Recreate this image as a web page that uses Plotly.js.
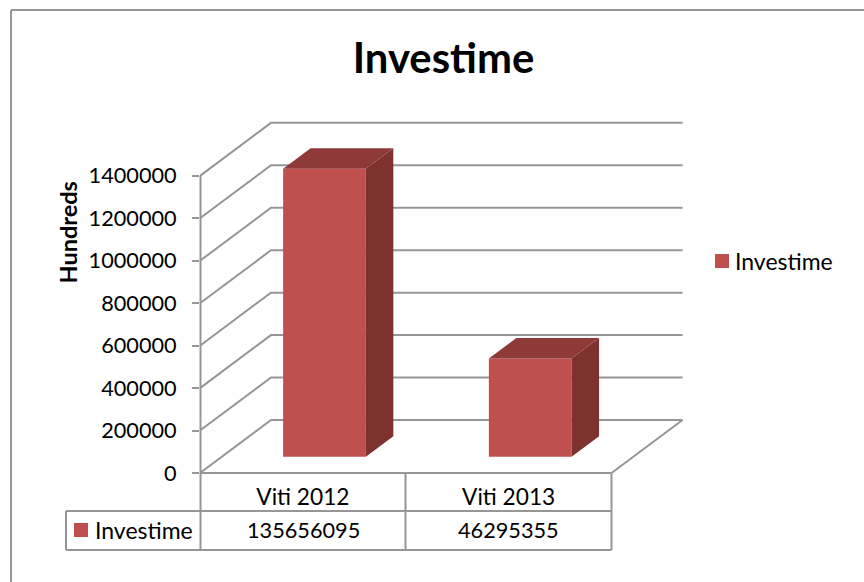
<!DOCTYPE html>
<html>
<head>
<meta charset="utf-8">
<script src="https://cdn.plot.ly/plotly-3.0.1.min.js"></script>
<style>html,body{margin:0;padding:0;background:#fff}</style>
</head>
<body>
<div id="chart" style="width:864px;height:582px"></div>
<script>
const categories = ["Viti 2012", "Viti 2013"];
const seriesName = "Investime";
const rawValues = [135656095, 46295355];
const hundreds = rawValues.map(v => v / 100);
const yTicks = [0, 200000, 400000, 600000, 800000, 1000000, 1200000, 1400000];

const FONT = "Lato, 'Open Sans', sans-serif";
const GRID = "#969696";
const BAR = "#c0504d", SIDE = "#7d3230", TOP = "#8e3a38";

// Plot rectangle in page pixels
const L = 200, R = 690, T = 115, B = 473;
const catPx = 205.75, valPx = 42.45 / 200000;
const xMax = (R - L) / catPx, yMax = (B - T) / valPx;

// Oblique projection of the floor and the bars
const wallDX = 71 / catPx, wallDY = 53 / valPx;
const barDX = 27.5 / catPx, barDY = 20.5 / valPx;
const barOffset = 0.605, barWidth = 0.402, barBase = 16.3 / valPx;

const px = x => (x - L) / (R - L);
const py = y => (B - y) / (B - T);
const seg = (x0, y0, x1, y1, w) => ({
  type: "line", xref: "paper", yref: "paper", layer: "above",
  x0: px(x0), y0: py(y0), x1: px(x1), y1: py(y1),
  line: {color: GRID, width: w || 2}
});

const shapes = [];
// Grid: one oblique run plus one back-wall run for each tick
yTicks.forEach(v => {
  shapes.push({
    type: "path", layer: "below", xref: "x", yref: "y",
    path: `M0,${v} L${wallDX},${v + wallDY} L${categories.length + wallDX},${v + wallDY}`,
    line: {color: GRID, width: 2}
  });
});
// Right edge of the floor
shapes.push({
  type: "line", layer: "below", xref: "x", yref: "y",
  x0: categories.length, y0: 0, x1: categories.length + wallDX, y1: wallDY,
  line: {color: GRID, width: 2}
});
// Outer frame
shapes.push(seg(11, 10, 864, 10), seg(11, 10, 11, 582));
// Value axis line and the data table
const colX = [66, 200.5, 405.5, 611.5];
shapes.push(
  seg(colX[1], B - 1400000 * valPx, colX[1], 550),
  seg(colX[1], 473, colX[3], 473),
  seg(colX[0], 511, colX[3], 511),
  seg(colX[0], 550, colX[3], 550),
  seg(colX[0], 511, colX[0], 550),
  seg(colX[2], 473, colX[2], 550),
  seg(colX[3], 473, colX[3], 550)
);
// Table legend key
shapes.push({
  type: "rect", xref: "paper", yref: "paper", layer: "above",
  x0: px(74), x1: px(88), y0: py(537), y1: py(523),
  fillcolor: BAR, line: {width: 0}
});

const traces = [];
// Front faces
traces.push({
  type: "bar", name: seriesName,
  x: categories.map((_, i) => i + barOffset),
  y: hundreds, base: hundreds.map(() => barBase),
  width: barWidth,
  marker: {color: BAR, line: {width: 0}},
  hoverinfo: "skip"
});
// Side and top faces
hundreds.forEach((v, i) => {
  const x0 = i + barOffset - barWidth / 2, x1 = x0 + barWidth;
  const top = barBase + v;
  traces.push({
    type: "scatter", mode: "lines", fill: "toself", fillcolor: SIDE,
    line: {width: 0, color: SIDE}, showlegend: false, hoverinfo: "skip",
    x: [x1, x1 + barDX, x1 + barDX, x1, x1],
    y: [barBase, barBase + barDY, top + barDY, top, barBase]
  });
  traces.push({
    type: "scatter", mode: "lines", fill: "toself", fillcolor: TOP,
    line: {width: 0, color: TOP}, showlegend: false, hoverinfo: "skip",
    x: [x0, x1, x1 + barDX, x0 + barDX, x0],
    y: [top, top, top + barDY, top + barDY, top]
  });
});

const LABEL = 23, NUM = 21.7;
const note = (text, x, y, extra) => Object.assign({
  text, xref: "paper", yref: "paper", x: px(x), y: py(y),
  xanchor: "center", yanchor: "middle", showarrow: false,
  font: {family: FONT, size: NUM, color: "#000"}
}, extra || {});

const annotations = [
  note("<b>Hundreds</b>", 67, 232.5, {textangle: -90, font: {family: FONT, size: 23.5, color: "#000"}}),
  note(seriesName, 144, 530, {font: {family: FONT, size: LABEL, color: "#000"}}),
  note(String(rawValues[0]), 303, 530),
  note(String(rawValues[1]), 508, 530)
];

const layout = {
  width: 864, height: 582,
  paper_bgcolor: "#fff", plot_bgcolor: "rgba(0,0,0,0)",
  margin: {l: L, r: 864 - R, t: T, b: 582 - B, pad: 0},
  title: {
    text: "<b>" + seriesName + "</b>",
    xref: "paper", yref: "container",
    x: px(443.5), xanchor: "center", y: 1 - 58 / 582, yanchor: "middle",
    font: {family: FONT, size: 41.8, color: "#000"}
  },
  barmode: "overlay",
  xaxis: {
    range: [0, xMax], showgrid: false, zeroline: false, showline: false,
    tickmode: "array", tickvals: categories.map((_, i) => i + 0.5), ticktext: categories,
    ticks: "", tickangle: 0, ticklabelstandoff: 8,
    tickfont: {family: FONT, size: 22.7, color: "#000"}
  },
  yaxis: {
    range: [0, yMax], showgrid: false, zeroline: false, showline: false,
    tickmode: "array", tickvals: yTicks, ticktext: yTicks.map(String),
    ticks: "outside", ticklen: 7, tickwidth: 2, tickcolor: GRID,
    ticklabelstandoff: 11,
    tickfont: {family: FONT, size: NUM, color: "#000"}
  },
  showlegend: true,
  legend: {
    x: (735 - 40 - L) / (R - L), xanchor: "left", y: py(261), yanchor: "middle",
    font: {family: FONT, size: LABEL, color: "#000"}, bgcolor: "rgba(0,0,0,0)",
    itemclick: false, itemdoubleclick: false
  },
  shapes, annotations
};

const gd = document.getElementById("chart");
// Sit the legend key beside its label and size it like the reference key
function placeLegendKey() {
  const key = gd.querySelector(".legend .legendsymbols");
  if (key) key.setAttribute("transform", "translate(7,0)");
  const pt = gd.querySelector(".legend .legendpoints");
  if (pt) pt.setAttribute("transform", "translate(20,0) scale(1.17) translate(-20,0)");
}
Plotly.newPlot(gd, traces, layout, {displayModeBar: false, staticPlot: true}).then(placeLegendKey);
</script>
</body>
</html>
